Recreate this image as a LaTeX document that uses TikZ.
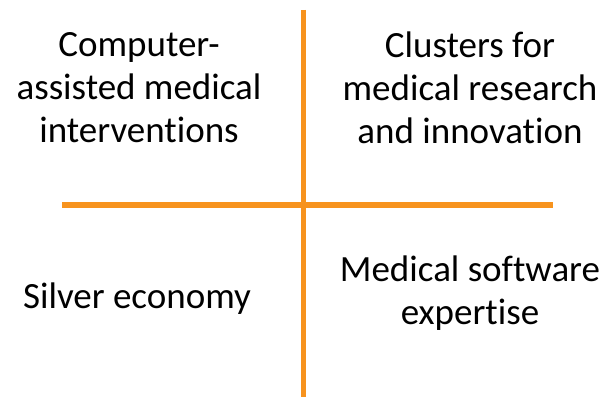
\documentclass[tikz,border=0pt]{standalone}
\usepackage{fontspec}
\setmainfont{Carlito}[Ligatures=NoCommon]
\usetikzlibrary{positioning}
\definecolor{AxisOrange}{RGB}{247,147,30}
\tikzset{
  quadtext/.style={align=center, font=\fontsize{37}{43}\selectfont,
    inner sep=0pt, text=black},
  axisline/.style={draw=AxisOrange, line width=5.5pt}
}

\begin{document}
\begin{tikzpicture}[x=1pt, y=-1pt]
      \useasboundingbox (0,0) rectangle (604,398);
      % axes of the quadrant
      \coordinate (vtop) at (303.5,10);
      \coordinate (vbot) at (303.5,397);
      \coordinate (hleft) at (62,205);
      \coordinate (hright) at (553,205);
      \draw[axisline] (hleft) -- (hright);
      \draw[axisline] (vtop) -- (vbot);
      % the four fields
      \node[quadtext] (computer) at (139,88) {Computer-\\assisted medical\\interventions};
      \node[quadtext] (clusters) at (470,88) {Clusters for\\medical research\\and innovation};
      \node[quadtext] (silver) at (137,299) {Silver economy};
      \node[quadtext] (software) at (470,293) {Medical software\\expertise};
    \end{tikzpicture}
\end{document}
